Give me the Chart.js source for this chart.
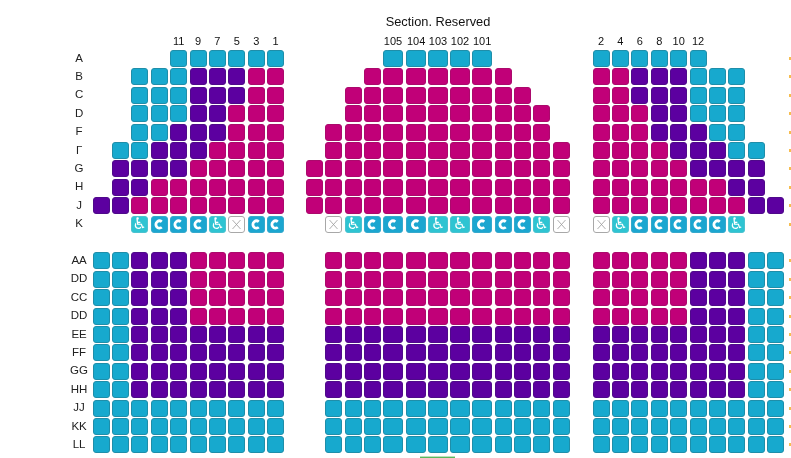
<!DOCTYPE html>
<html>
<head>
<meta charset="utf-8">
<title>Section. Reserved</title>
<script src="https://cdn.jsdelivr.net/npm/chart.js@4/dist/chart.umd.min.js"></script>
<style>
	html, body { margin: 0; padding: 0; background: #fff; overflow: hidden; }
	#wrap { position: relative; width: 791px; height: 458px; }
	canvas { display: block; }
	#floor { position: absolute; left: 420px; top: 456px; width: 35px; height: 2px; background: linear-gradient(#ffffff00, #5cb85c 60%); }
</style>
</head>
<body>
<div id="wrap">
	<canvas id="seats" width="791" height="458"></canvas>
	<div id="floor"></div>
</div>
<script>
	const rowLabels = ["A", "B", "C", "D", "F", "Г", "G", "H", "J", "K", "", "AA", "DD", "CC", "DD", "EE", "FF", "GG", "HH", "JJ", "KK", "LL"];

	// seat columns on the x axis, one unit is a normal seat
	const leftColumns = [0, 1, 2, 3, 4, 5, 6, 7, 8, 9];
	const middleColumns = [11, 12, 13, 14, 15.05, 16.24, 17.37, 18.5, 19.64, 20.72, 21.73, 22.7, 23.74];
	const rightColumns = [25.77, 26.77, 27.77, 28.77, 29.77, 30.77, 31.77, 32.77, 33.77, 34.77];
	const edgeColumn = 35.5;

	const leftNumbers = ["", "", "", "", "11", "9", "7", "5", "3", "1"];
	const middleNumbers = ["", "", "", "", "105", "104", "103", "102", "101", "", "", "", ""];
	const rightNumbers = ["2", "4", "6", "8", "10", "12", "", "", "", ""];

	// C standard, P premium, M prime, c companion, W wheelchair, X blocked, . no seat
	const leftRows = [
		"....CCCCCC", "..CCCPPPMM", "..CCCPPPMM", "..CCCPPMMM", "..CCPPPMMM", ".CCPPPMMMM", ".PPPPMMMMM", ".PPMMMMMMM", "PPMMMMMMMM", "..WcccWXcc",
		"..........",
		"CCPPPMMMMM", "CCPPPMMMMM", "CCPPPMMMMM", "CCPPPMMMMM", "CCPPPPPPPP", "CCPPPPPPPP", "CCPPPPPPPP", "CCPPPPPPPP", "CCCCCCCCCC", "CCCCCCCCCC", "CCCCCCCCCC",
	];
	const middleRows = [
		"....CCCCC....", "...MMMMMMM...", "..MMMMMMMMM..", "..MMMMMMMMMM.", ".MMMMMMMMMMM.", ".MMMMMMMMMMMM", "MMMMMMMMMMMMM", "MMMMMMMMMMMMM", "MMMMMMMMMMMMM", ".XWcccWWcccWX",
		".............",
		".MMMMMMMMMMMM", ".MMMMMMMMMMMM", ".MMMMMMMMMMMM", ".MMMMMMMMMMMM", ".PPPPPPPPPPPP", ".PPPPPPPPPPPP", ".PPPPPPPPPPPP", ".PPPPPPPPPPPP", ".CCCCCCCCCCCC", ".CCCCCCCCCCCC", ".CCCCCCCCCCCC",
	];
	const rightRows = [
		"CCCCCC....", "MMPPPCCC..", "MMPPPCCC..", "MMMPPCCC..", "MMMPPPCC..", "MMMMPPPCC.", "MMMMMPPPP.", "MMMMMMMPP.", "MMMMMMMMPP", "XWcccccW..",
		"..........",
		"MMMMMPPPCC", "MMMMMPPPCC", "MMMMMPPPCC", "MMMMMPPPCC", "PPPPPPPPCC", "PPPPPPPPCC", "PPPPPPPPCC", "PPPPPPPPCC", "CCCCCCCCCC", "CCCCCCCCCC", "CCCCCCCCCC",
	];

	const seatStyles = {
		C: { fill: "#17a9ce", border: "#1f8ea9" },
		P: { fill: "#5c00a0", border: "#4f0a8a" },
		M: { fill: "#c10078", border: "#ab0a6c" },
		c: { fill: "#1ba6d0", border: "#36a9cc" },
		W: { fill: "#2ec4d2", border: "#4cc2cf" },
		X: { fill: "#ffffff", border: "#a8a8a8" },
	};

	const sprites = {};

	function seatSprite(code, wide) {
		const key = code + (wide ? "w" : "n");
		if (sprites[key]) {
			return sprites[key];
		}
		const w = wide ? 20 : 17;
		const h = 17;
		const canvas = document.createElement("canvas");
		canvas.width = w;
		canvas.height = h;
		const ctx = canvas.getContext("2d");
		const style = seatStyles[code];
		ctx.beginPath();
		ctx.roundRect(0.5, 0.5, w - 1, h - 1, 2.5);
		ctx.fillStyle = style.fill;
		ctx.fill();
		ctx.lineWidth = 1;
		ctx.strokeStyle = style.border;
		ctx.stroke();
		if (code === "c") {
			ctx.beginPath();
			ctx.arc(w / 2, h / 2, 3.6, 0.28 * Math.PI, 1.72 * Math.PI);
			ctx.strokeStyle = "#fff";
			ctx.lineWidth = 2.8;
			ctx.stroke();
		} else if (code === "W") {
			ctx.fillStyle = "#fff";
			ctx.font = "16px 'DejaVu Sans'";
			ctx.textAlign = "center";
			ctx.textBaseline = "middle";
			ctx.fillText("\u267F", w / 2, h / 2 + 0.5);
		} else if (code === "X") {
			ctx.beginPath();
			ctx.moveTo(w / 2 - 4, h / 2 - 4.5);
			ctx.lineTo(w / 2 + 4, h / 2 + 4.5);
			ctx.moveTo(w / 2 + 4, h / 2 - 4.5);
			ctx.lineTo(w / 2 - 4, h / 2 + 4.5);
			ctx.strokeStyle = "#9a9a9a";
			ctx.lineWidth = 0.8;
			ctx.stroke();
		}
		sprites[key] = canvas;
		return canvas;
	}

	function edgeSprite() {
		const canvas = document.createElement("canvas");
		canvas.width = 2;
		canvas.height = 3;
		const ctx = canvas.getContext("2d");
		ctx.fillStyle = "#f6bd50";
		ctx.fillRect(0, 0, 2, 3);
		return canvas;
	}

	function isWide(x) {
		return middleColumns.indexOf(x) >= 4 && middleColumns.indexOf(x) <= 8;
	}

	function seatPoints(code) {
		const points = [];
		[[leftColumns, leftRows], [middleColumns, middleRows], [rightColumns, rightRows]].forEach(([columns, rows]) => {
			rows.forEach((row, y) => {
				columns.forEach((x, i) => {
					if (row[i] === code) {
						points.push({ x: x, y: y });
					}
				});
			});
		});
		return points;
	}

	function seatDataset(label, code) {
		return {
			label: label,
			data: seatPoints(code),
			clip: false,
			pointRadius: 9,
			pointHoverRadius: 9,
			pointStyle: (ctx) => seatSprite(code, ctx.raw && isWide(ctx.raw.x)),
		};
	}

	// x alternates a hair so the points do not count as sorted, else they get cut as out of range
	const edgeMarks = rowLabels.map((label, y) => ({ x: edgeColumn + (y % 2) * 0.01, y: y })).filter((p) => rowLabels[p.y] !== "");

	const allColumns = [...leftColumns, ...middleColumns, ...rightColumns];
	const allNumbers = [...leftNumbers, ...middleNumbers, ...rightNumbers];

	const crispSeats = {
		id: "crispSeats",
		beforeDraw(chart) {
			chart.ctx.imageSmoothingEnabled = false;
		},
	};

	new Chart(document.getElementById("seats"), {
		type: "scatter",
		plugins: [crispSeats],
		data: {
			datasets: [
				seatDataset("Standard", "C"),
				seatDataset("Premium", "P"),
				seatDataset("Prime", "M"),
				seatDataset("Companion", "c"),
				seatDataset("Wheelchair", "W"),
				seatDataset("Blocked", "X"),
				{
					label: "Edge",
					data: edgeMarks,
					clip: false,
					pointStyle: edgeSprite(),
					pointRadius: 8,
				},
			],
		},
		options: {
			responsive: false,
			animation: false,
			layout: { autoPadding: false, padding: { top: 0, right: 7, bottom: 3.9, left: 0 } },
			plugins: {
				legend: { display: false },
				tooltip: { enabled: false },
			},
			scales: {
				x: {
					type: "linear",
					position: "top",
					min: -0.464,
					max: 35.2,
					grid: { display: false, drawTicks: false },
					border: { display: false },
					title: {
						display: true,
						text: "Section. Reserved",
						color: "#111",
						font: { family: "Liberation Sans", size: 12.8 },
						padding: { top: 15, bottom: 0 },
					},
					ticks: {
						autoSkip: false,
						maxRotation: 0,
						padding: 1,
						color: "#111",
						font: { family: "Liberation Sans", size: 11 },
						callback: (value) => allNumbers[allColumns.indexOf(value)],
					},
					afterBuildTicks: (axis) => {
						axis.ticks = allColumns.filter((x, i) => allNumbers[i] !== "").map((x) => ({ value: x }));
					},
					afterFit: (axis) => {
						axis.height = 49.3;
						axis.paddingLeft = 0;
						axis.paddingRight = 0;
					},
				},
				y: {
					type: "linear",
					reverse: true,
					min: -0.5,
					max: 21.5,
					grid: { display: false, drawTicks: false },
					border: { display: false },
					ticks: {
						autoSkip: false,
						crossAlign: "center",
						padding: 4,
						color: "#222",
						font: { family: "Liberation Sans", size: 11.5 },
						callback: (value) => rowLabels[value],
					},
					afterBuildTicks: (axis) => {
						axis.ticks = rowLabels.map((label, i) => ({ value: i }));
					},
					afterFit: (axis) => {
						axis.width = 92;
						axis.paddingTop = 0;
						axis.paddingBottom = 0;
					},
				},
			},
		},
	});
</script>
</body>
</html>
